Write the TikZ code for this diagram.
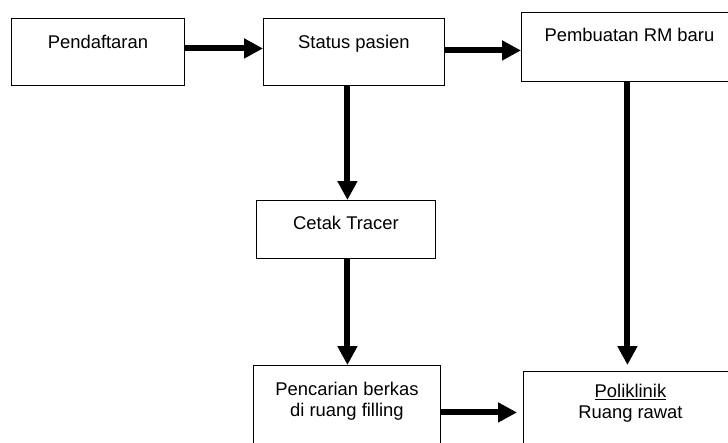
\documentclass[tikz,border=0pt]{standalone}
\usepackage{fontspec}
\setmainfont{Liberation Sans}
\usetikzlibrary{arrows.meta}

\begin{document}
\begin{tikzpicture}[%
        x = 1pt,
        y = -1pt,
        box/.style = {%
            draw = black,
            line width = 0.9pt,
            inner sep = 0pt,
            anchor = north west,
            align = center,
            font = \fontsize{18.4}{20.5}\selectfont
        },
        flow/.style = {%
            line width = 6pt,
            -{Triangle[length = 19pt, width = 19pt]}
        }
    ]

        % Page frame, the right and bottom boxes run past it.
        \useasboundingbox (0, 0) rectangle (728, 442);
        \clip (0, 0) rectangle (728, 442);

        % Top row of the flow.
        \node[box, minimum width = 173pt, text height = 30pt, text depth = 37pt]
            (daftar) at (11, 18) {Pendaftaran};
        \node[box, minimum width = 181pt, text height = 30pt, text depth = 37pt]
            (status) at (263, 18) {Status pasien};
        \node[box, minimum width = 216pt, text height = 29pt, text depth = 40pt]
            (rmbaru) at (521, 12) {Pembuatan RM baru};

        % Middle step under the status box.
        \node[box, minimum width = 179pt, text height = 29pt, text depth = 29pt]
            (cetak) at (256, 200) {Cetak Tracer};

        % Bottom row, cut off by the page edge.
        \node[box, minimum width = 187pt, text height = 51pt, text depth = 43pt]
            (cari) at (253, 365) {Pencarian berkas\\di ruang filling};
        \node[box, minimum width = 214pt, text height = 47pt, text depth = 35pt]
            (poli) at (523, 371) {\underline{Poliklinik}\\Ruang rawat};

        % Arrows along the top row.
        \draw[flow] ([yshift = 3.5pt]daftar.east) to ([yshift = 3.5pt]status.west);
        \draw[flow] ([yshift = 1.5pt]status.east)
            to ([yshift = 1.5pt]status.east -| rmbaru.west);

        % Arrows going down.
        \draw[flow] ([xshift = 1.5pt]cetak.north |- status.south)
            to ([xshift = 1.5pt]cetak.north);
        \draw[flow] ([xshift = 1.5pt]cetak.south)
            to ([xshift = 1.5pt]cetak.south |- cari.north);
        \draw[flow, shorten > = 6pt] ([xshift = -2pt]rmbaru.south)
            to ([xshift = -2pt]rmbaru.south |- poli.north);

        % Last arrow into the clinic.
        \draw[flow, shorten > = 6pt] (cari.east) to (poli.west);
    \end{tikzpicture}
\end{document}
